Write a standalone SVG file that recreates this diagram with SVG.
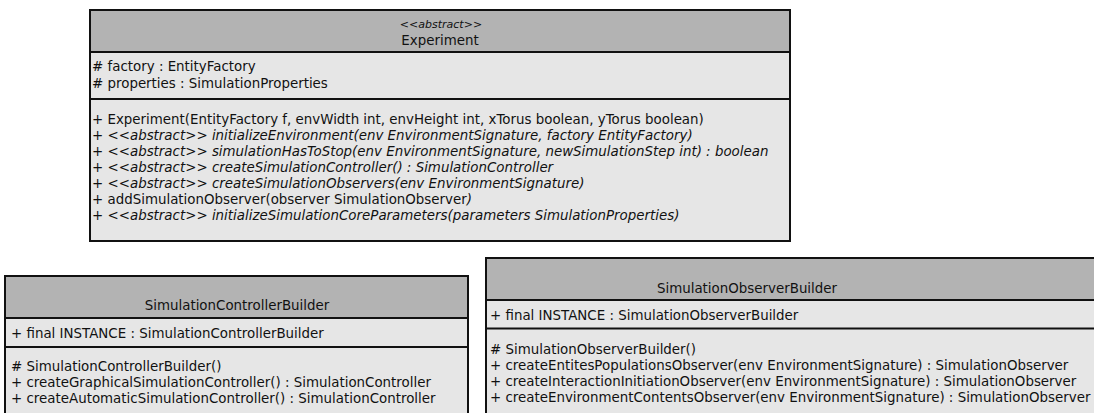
<svg xmlns="http://www.w3.org/2000/svg" width="1094" height="413" viewBox="0 0 1094 413">
<style>
.hdr{fill:#b3b3b3;stroke:#111;stroke-width:2}
.bd{fill:#e6e6e6;stroke:#111;stroke-width:2}
.sep{stroke:#111;stroke-width:2}
text{font-family:"DejaVu Sans",sans-serif;font-size:13.4px;fill:#111}
.c{text-anchor:middle}
.i{font-style:italic}
.s{font-size:11px}
</style>
<rect width="1094" height="413" fill="#fff"/>
<g id="experiment">
<rect class="bd" x="90" y="10" width="700" height="231"/>
<rect class="hdr" x="90" y="10" width="700" height="42"/>
<line class="sep" x1="90" y1="99" x2="790" y2="99"/>
<text class="c i s" x="441" y="28">&lt;&lt;abstract&gt;&gt;</text>
<text class="c" x="440" y="45">Experiment</text>
<text x="92" y="71"># factory : EntityFactory</text>
<text x="92" y="87.5"># properties : SimulationProperties</text>
<text x="92" y="123.5">+ Experiment(EntityFactory f, envWidth int, envHeight int, xTorus boolean, yTorus boolean)</text>
<text x="92" y="139.5">+ <tspan class="i">&lt;&lt;abstract&gt;&gt; initializeEnvironment(env EnvironmentSignature, factory EntityFactory)</tspan></text>
<text x="92" y="155.5">+ <tspan class="i">&lt;&lt;abstract&gt;&gt; simulationHasToStop(env EnvironmentSignature, newSimulationStep int) : boolean</tspan></text>
<text x="92" y="171.5">+ <tspan class="i">&lt;&lt;abstract&gt;&gt; createSimulationController() : SimulationController</tspan></text>
<text x="92" y="187.5">+ <tspan class="i">&lt;&lt;abstract&gt;&gt; createSimulationObservers(env EnvironmentSignature)</tspan></text>
<text x="92" y="203.5">+ addSimulationObserver(observer SimulationObserver<tspan class="i">)</tspan></text>
<text x="92" y="219.5">+ <tspan class="i">&lt;&lt;abstract&gt;&gt; initializeSimulationCoreParameters(parameters SimulationProperties)</tspan></text>
</g>
<g id="controllerBuilder">
<rect class="bd" x="5" y="276" width="463" height="150"/>
<rect class="hdr" x="5" y="276" width="463" height="42"/>
<line class="sep" x1="5" y1="347" x2="468" y2="347"/>
<text class="c" x="237" y="310">SimulationControllerBuilder</text>
<text x="11" y="337.5">+ final INSTANCE : SimulationControllerBuilder</text>
<text x="11" y="371"># SimulationControllerBuilder()</text>
<text x="11" y="387">+ createGraphicalSimulationController() : SimulationController</text>
<text x="11" y="403">+ createAutomaticSimulationController() : SimulationController</text>
</g>
<g id="observerBuilder">
<rect class="bd" x="486" y="258" width="620" height="170"/>
<rect class="hdr" x="486" y="258" width="620" height="42"/>
<line class="sep" x1="486" y1="328.5" x2="1106" y2="328.5"/>
<text class="c" x="747" y="293">SimulationObserverBuilder</text>
<text x="490" y="319.5">+ final INSTANCE : SimulationObserverBuilder</text>
<text x="490" y="354"># SimulationObserverBuilder()</text>
<text x="490" y="370">+ createEntitesPopulationsObserver(env EnvironmentSignature) : SimulationObserver</text>
<text x="490" y="386">+ createInteractionInitiationObserver(env EnvironmentSignature) : SimulationObserver</text>
<text x="490" y="402">+ createEnvironmentContentsObserver(env EnvironmentSignature) : SimulationObserver</text>
</g>
<g id="connectors"></g>
</svg>
